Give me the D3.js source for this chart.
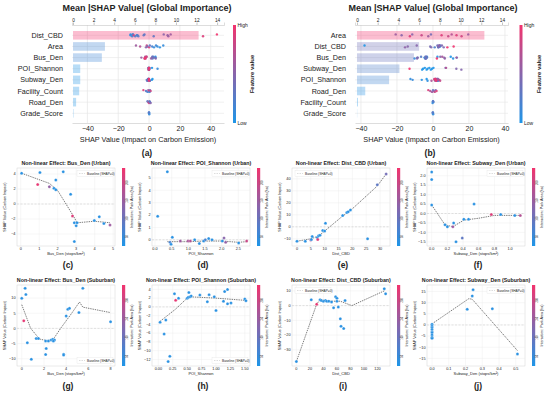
<!DOCTYPE html>
<html lang="en">
<head>
<meta charset="UTF-8">
<title>SHAP panels</title>
<script src="https://d3js.org/d3.v7.min.js"></script>
<style>
  body { margin: 0; background: #fff; }
  svg { display: block; }
  text { font-family: "Liberation Sans", Arial, sans-serif; fill: #222; }
</style>
</head>
<body>
<svg id="chart" width="550" height="393"></svg>
<script>
// ---- summary panels (a) / (b)
var featA = ["Dist_CBD", "Area", "Bus_Den", "POI_Shannon", "Subway_Den", "Facility_Count", "Road_Den", "Grade_Score"];
var impA = [12.2, 3.1, 2.8, 0.7, 0.7, 0.6, 0.3, 0.05];
var featB = ["Area", "Dist_CBD", "Bus_Den", "Subway_Den", "POI_Shannon", "Road_Den", "Facility_Count", "Grade_Score"];
var impB = [12.3, 6.0, 5.5, 4.1, 3.1, 0.8, 0.1, 0.02];
var impTicks = [0, 2, 4, 6, 8, 10, 12, 14];
var shapTicks = [-40, -20, 0, 20, 40];

// extra swarm values (shap, feature value 0..1) for features without a dependence panel
var areaShapA = [-8.5, -5.8, -2, -1.5, -1, 0, 0.5, 2, 3.2, 4.5, 5.4, 7, 9.2];
var areaValA = [0.6, 0.7, 0.5, 0.8, 0.4, 0.9, 0.3, 0.2, 0.1, 0.15, 0.1, 0.05, 0.1];
var facShapA = [-3.7, -2, -1, -0.5, 0, 0.3, 0.6, 1];
var facValA = [0.9, 0.3, 0.2, 0.6, 0.9, 0.1, 0.4, 0.8];
var roadShapA = [-1, -0.5, 0, 0.3, 0.6, 1];
var roadValA = [0.3, 0.6, 0.9, 0.4, 0.2, 0.5];
var gradeShap = [0, 0, 0.1, -0.1];
var gradeVal = [0.1, 0.2, 0.1, 0.3];
var areaShapB = [-20.7, -17.4, -12.8, -11.5, -6.3, -2.6, -1.1, 4.8, 8.5, 10.4, 13.1, 15.9, 19.6];
var areaValB = [0.6, 0.5, 0.9, 0.5, 0.8, 0.6, 0.4, 0.9, 0.8, 0.7, 0.9, 0.85, 0.6];
var roadShapB = [-2.6, -1.5, -0.5, 0, 0.5, 1, 1.5, 2];
var roadValB = [0.9, 0.7, 0.6, 0.3, 0.5, 0.8, 0.4, 0.9];
var facShapB = [0, 0.2, -0.2, 0.1];
var facValB = [0.1, 0.2, 0.1, 0.3];

// ---- dependence panels
var cX = [0.05, 1.04, 2.3, 0.92, 1.9, 1.55, 1.8, 1.9, 2.7, 2.8, 2.9, 3.0, 3.05, 2.9, 3.98, 4.25, 4.5, 4.83];
var cY = [4.1, 4.2, 4.3, 2.6, 3.2, 2.3, 2.1, 1.9, 1.3, -1.6, -2.5, -2.9, -2.5, -5.0, -2.2, -1.7, -2.6, -2.8];
var cC = [0.05, 0.05, 0.05, 0.95, 0.05, 0.55, 0.05, 0.05, 0.05, 0.9, 0.05, 0.05, 0.05, 0.05, 0.05, 0.05, 0.05, 0.6];
var cTx = [0.05, 1.55, 2.0, 2.85, 3.05, 3.98, 4.83];
var cTy = [4.1, 2.75, 1.8, -1.6, -2.5, -2.3, -2.5];

var dX = [0.08, 0.37, 0.45, 0.48, 0.52, 0.76, 0.99, 1.06, 1.19, 1.33, 1.46, 1.51, 1.61, 1.71, 2.02, 2.07, 2.12, 2.51, 2.75];
var dY = [1.9, 5.5, -0.2, -0.35, 0.2, -0.1, -0.1, -0.1, 0.0, -0.3, -0.1, 0.0, 0.1, 0.0, -0.1, 0.15, -0.2, -0.25, -0.1];
var dC = [0.05, 0.05, 0.2, 0.05, 0.05, 0.6, 0.65, 0.7, 0.05, 0.05, 0.05, 0.2, 0.05, 0.05, 0.05, 0.5, 0.55, 0.05, 0.8];
var dTx = [0.37, 1.0, 1.5, 2.0, 2.5, 2.75];
var dTy = [-0.15, -0.15, -0.1, -0.1, -0.2, -0.15];

var eX = [0, 3, 5, 5.2, 5.5, 7.3, 7.5, 7.8, 8.3, 9.3, 10.0, 10.3, 16.5, 18, 18.5, 19.3, 25.5, 29, 32.2];
var eY = [-12, -12, -11, -10.5, -8, -9, -10.5, -7.5, -7, -3, -3.5, 3, 9.5, 12, 12.5, 14, -10, 35, 44];
var eC = [0.05, 0.05, 0.6, 0.05, 0.05, 0.05, 0.9, 0.05, 0.05, 0.05, 0.05, 0.05, 0.05, 0.05, 0.05, 0.05, 0.05, 0.3, 0.4];
var eTx = [0, 5, 8, 10, 16, 20, 29, 32.2];
var eTy = [-12, -10, -7.5, -3.5, 8, 15, 34, 44];

var fX = [0, 0, 0, 0.17, 0.2, 0.27, 0.28, 0.31, 0.39, 0.41, 0.47, 0.54, 0.76, 0.88, 1.06, 1.13];
var fY = [2.2, 1.8, 0.45, -0.6, -0.7, -0.7, -0.5, -1.5, -1.3, -0.3, -0.3, 0.5, -0.05, -0.05, -0.1, -0.1];
var fC = [0.05, 0.05, 0.05, 0.05, 0.05, 0.6, 0.05, 0.05, 0.3, 0.05, 0.05, 0.05, 0.9, 0.05, 0.05, 0.7];
var fTx = [0, 0.17, 0.27, 0.41, 0.6, 0.8, 1.13];
var fTy = [0.45, -0.6, -0.7, -0.35, -0.25, -0.1, -0.1];

var gX = [0, 0.3, 0.37, 0.18, 0.5, 0.86, 1.3, 1.5, 2.15, 2.2, 2.15, 2.4, 2.65, 2.8, 2.95, 2.85, 3.77, 3.77, 4.0, 4.15, 4.3, 5.15, 5.5, 8.0];
var gY = [9.9, 13.2, 11.2, 2.5, -4.7, -10.2, -3.3, -3.3, -4.2, -6.6, -8.6, -4.2, -3.8, -3.6, -3.8, -4.2, -8.5, -8.8, 4.1, 6.3, 6.6, 5.2, 13.2, 2.2];
var gC = [0.05, 0.05, 0.05, 0.95, 0.05, 0.05, 0.05, 0.05, 0.05, 0.05, 0.05, 0.05, 0.05, 0.05, 0.05, 0.05, 0.05, 0.05, 0.05, 0.05, 0.05, 0.05, 0.05, 0.05];
var gTx = [0, 0.8, 1.6, 2.2, 2.8, 3.5, 4.5, 5.2, 5.5, 8.0];
var gTy = [7.8, 0, -3.5, -4.0, -3.8, 0, 5, 8.7, 7.0, 5.2];

var hX = [0.03, 0.1, 0.13, 0.17, 0.2, 0.28, 0.3, 0.35, 0.5, 0.52, 0.53, 0.55, 0.57, 0.72, 0.85, 0.88, 0.97, 1.0, 1.13, 1.15, 1.2, 1.2, 1.26, 1.5, 1.52];
var hY = [-3.5, -6.2, -3.0, -12.5, -11.3, 3.0, 1.5, 2.0, 2.0, 2.2, 3.3, 2.3, 2.5, 2.7, 1.2, 2.8, 2.3, -0.8, 1.3, 3.5, 4.0, 0.7, 0.9, 1.8, 1.4];
var hC = [0.05, 0.05, 0.05, 0.05, 0.05, 0.05, 0.95, 0.05, 0.05, 0.05, 0.05, 0.05, 0.05, 0.05, 0.05, 0.05, 0.05, 0.05, 0.05, 0.05, 0.05, 0.05, 0.05, 0.05, 0.05];
var hTx = [0.03, 0.3, 0.5, 0.55, 1.0, 1.5];
var hTy = [-3.3, -0.5, 2.0, 2.3, 2.0, 1.5];

var iX = [0, 22, 30, 35, 37, 40, 43, 45, 48, 52, 55, 58, 60, 60, 62, 65, 66, 70, 72, 130, 132];
var iY = [-38, 4, 1, 4, 3.5, 3, 3.5, 3, 3, 2.5, -1.5, 6, 5, 3, -1, -9, -14, -15.5, 3.5, 11.5, 8];
var iC = [0.05, 0.05, 0.95, 0.05, 0.05, 0.05, 0.05, 0.05, 0.05, 0.05, 0.05, 0.05, 0.05, 0.05, 0.05, 0.05, 0.05, 0.05, 0.05, 0.05, 0.05];
var iTx = [0, 20, 30, 35, 50, 65, 82, 130];
var iTy = [-38, -12, 1, 4, 3, 3, 0, 10];

var jX = [0, 0, 0, 0, 0, 0, 0, 0, 0, 0.21, 0.24, 0.245, 0.36, 0.51];
var jY = [0.3, -0.5, -1.2, -2, -3, -3.5, -4.5, -5.5, -6, 7, 13, 15.8, 7.3, -13];
var jC = [0.05, 0.05, 0.05, 0.05, 0.05, 0.05, 0.05, 0.05, 0.05, 0.05, 0.05, 0.05, 0.05, 0.05];
var jTx = [0, 0.22, 0.24, 0.51];
var jTy = [0.5, 11.8, 11.5, -11.5];

var svg = d3.select("#chart");
var cmap = d3.interpolateRgb("#1e96e8", "#f2336e");

// gradient for colorbars
var defs = svg.append("defs");
var grad = defs.append("linearGradient").attr("id", "cbar").attr("x1", 0).attr("x2", 0).attr("y1", 1).attr("y2", 0);
d3.range(0, 1.01, 0.1).forEach(function(t) {
  grad.append("stop").attr("offset", t).attr("stop-color", cmap(t));
});

function norm(arr) {
  var ext = d3.extent(arr);
  return arr.map(function(v) { return (v - ext[0]) / (ext[1] - ext[0] || 1); });
}

function drawSummary(o) {
  var g = svg.append("g");
  var xs = d3.scaleLinear().domain(o.shapDom).range([o.x0, o.x1]);
  var xi = d3.scaleLinear().domain(o.impDom).range([o.x0, o.x1]);
  var y = d3.scalePoint().domain(o.feat).range([35.3, 113.3]);
  var top = 25, bot = 123;

  // grid
  g.selectAll(".vg").data(shapTicks).enter().append("line")
    .attr("x1", function(d) { return xs(d); }).attr("x2", function(d) { return xs(d); })
    .attr("y1", top).attr("y2", bot).attr("stroke", "#e3e3e3").attr("stroke-width", 0.6);
  g.selectAll(".hg").data(o.feat).enter().append("line")
    .attr("x1", o.x0).attr("x2", o.x1)
    .attr("y1", function(d) { return y(d); }).attr("y2", function(d) { return y(d); })
    .attr("stroke", "#e6e6e6").attr("stroke-width", 0.6);

  // bars
  var maxImp = d3.max(o.imp);
  g.selectAll(".bar").data(o.imp).enter().append("rect")
    .attr("x", xi(0)).attr("y", function(d, i) { return y(o.feat[i]) - 4.3; })
    .attr("width", function(d) { return xi(d) - xi(0); }).attr("height", 8.6)
    .attr("fill", function(d) { return cmap(Math.pow(d / maxImp, 1.3)); }).attr("opacity", 0.32);

  // swarm dots
  o.swarm.forEach(function(s, r) {
    var yc = y(o.feat[r]);
    s.shap.forEach(function(v, k) {
      g.append("circle").attr("cx", xs(v)).attr("cy", yc + ((k % 3) - 1) * 0.9)
        .attr("r", 1.2).attr("fill", cmap(s.val[k])).attr("opacity", 0.9);
    });
  });

  // top axis
  var ta = g.append("g").attr("transform", "translate(0," + top + ")")
    .call(d3.axisTop(xi).tickValues(impTicks).tickSize(2.5).tickPadding(1));
  ta.select(".domain").attr("stroke", "#bbb").attr("stroke-width", 0.5);
  ta.selectAll(".tick line").attr("stroke", "#888").attr("stroke-width", 0.5);
  ta.selectAll("text").attr("font-size", 4.8).attr("fill", "#444");

  // bottom axis
  var ba = g.append("g").attr("transform", "translate(0," + bot + ")")
    .call(d3.axisBottom(xs).tickValues(shapTicks).tickSize(0).tickPadding(3).tickFormat(function(d) { return d < 0 ? "\u2212" + (-d) : d; }));
  ba.select(".domain").attr("stroke", "#bbb").attr("stroke-width", 0.5);
  ba.selectAll("text").attr("font-size", 7).attr("fill", "#333");

  // labels
  g.selectAll(".fl").data(o.feat).enter().append("text")
    .attr("x", o.x0 - 9).attr("y", function(d) { return y(d) + 2.6; })
    .attr("text-anchor", "end").attr("font-size", 7.2).attr("fill", "#333").text(function(d) { return d; });
  g.append("text").attr("x", o.titleX).attr("y", 10.5).attr("text-anchor", "middle")
    .attr("font-size", 9).attr("font-weight", "bold").text("Mean |SHAP Value| (Global Importance)");
  g.append("text").attr("x", (o.x0 + o.x1) / 2).attr("y", 142).attr("text-anchor", "middle")
    .attr("font-size", 7.3).attr("fill", "#333").text("SHAP Value (Impact on Carbon Emission)");

  // colorbar
  g.append("rect").attr("x", o.cbX).attr("y", top).attr("width", 3).attr("height", bot - top).attr("fill", "url(#cbar)");
  g.append("text").attr("x", o.cbX + 4.5).attr("y", top + 2).attr("font-size", 5).attr("fill", "#444").text("High");
  g.append("text").attr("x", o.cbX + 4.5).attr("y", bot + 1.5).attr("font-size", 5).attr("fill", "#444").text("Low");
  g.append("text").attr("transform", "translate(" + (o.cbX + 21) + "," + ((top + bot) / 2) + ") rotate(-90)")
    .attr("text-anchor", "middle").attr("font-size", 6).attr("font-weight", "bold").attr("fill", "#333").text("Feature value");

  g.append("text").attr("x", o.labX).attr("y", 155.5).attr("text-anchor", "middle")
    .attr("font-family", "Liberation Serif, serif").attr("font-size", 8.5).attr("font-weight", "bold").text(o.label);
}

function drawDep(o) {
  var g = svg.append("g");
  var L = o.ox + 17, R = o.ox + 115, T = o.top, B = o.bot;
  var x = d3.scaleLinear().domain(o.xdom).range([L, R]);
  var y = d3.scaleLinear().domain(o.ydom).range([B, T]);

  g.append("rect").attr("x", L).attr("y", T).attr("width", R - L).attr("height", B - T)
    .attr("fill", "#fff").attr("stroke", "#d4d4d4").attr("stroke-width", 0.5);
  g.selectAll(".gx").data(o.xticks).enter().append("line")
    .attr("x1", function(d) { return x(d); }).attr("x2", function(d) { return x(d); })
    .attr("y1", T).attr("y2", B).attr("stroke", "#ececec").attr("stroke-width", 0.4);
  g.selectAll(".gy").data(o.yticks).enter().append("line")
    .attr("y1", function(d) { return y(d); }).attr("y2", function(d) { return y(d); })
    .attr("x1", L).attr("x2", R).attr("stroke", "#ececec").attr("stroke-width", 0.4);

  // baseline at shap = 0
  g.append("line").attr("x1", L).attr("x2", R).attr("y1", y(0)).attr("y2", y(0))
    .attr("stroke", "#bbb").attr("stroke-width", 0.4).attr("stroke-dasharray", "2,1.5");

  // trend
  var line = d3.line().x(function(d) { return x(d[0]); }).y(function(d) { return y(d[1]); });
  g.append("path").datum(d3.zip(o.tx, o.ty)).attr("d", line)
    .attr("fill", "none").attr("stroke", "#444").attr("stroke-width", 0.7).attr("stroke-dasharray", "1.4,0.9");

  // points
  g.selectAll(".pt").data(d3.range(o.xs.length)).enter().append("circle")
    .attr("cx", function(i) { return x(o.xs[i]); }).attr("cy", function(i) { return y(o.ys[i]); })
    .attr("r", 1.5).attr("fill", function(i) { return cmap(o.cs[i]); })
    .attr("stroke", "#fff").attr("stroke-width", 0.25);

  // tick labels
  g.selectAll(".xl").data(o.xticks).enter().append("text")
    .attr("x", function(d) { return x(d); }).attr("y", B + 4.3).attr("text-anchor", "middle")
    .attr("font-size", 3.8).attr("fill", "#444").text(function(d) { return d3.format(o.xfmt)(d); });
  g.selectAll(".yl").data(o.yticks).enter().append("text")
    .attr("x", L - 1.5).attr("y", function(d) { return y(d) + 1.3; }).attr("text-anchor", "end")
    .attr("font-size", 3.8).attr("fill", "#444").text(function(d) { return d3.format(o.yfmt)(d); });

  g.append("text").attr("x", (L + R) / 2).attr("y", B + 9).attr("text-anchor", "middle")
    .attr("font-size", 4).attr("fill", "#333").text(o.xlab);
  g.append("text").attr("transform", "translate(" + (o.ox + 6) + "," + ((T + B) / 2) + ") rotate(-90)")
    .attr("text-anchor", "middle").attr("font-size", 3.8).attr("fill", "#333").text("SHAP Value (Carbon Impact)");
  g.append("text").attr("x", (L + R) / 2).attr("y", T - 3).attr("text-anchor", "middle")
    .attr("font-size", 5.3).attr("font-weight", "bold").attr("fill", "#222").text(o.title);

  // legend
  var lw = 36, lh = 6;
  var lx = o.leg[0] === "l" ? L + 3 : R - lw - 2;
  var ly = o.leg[1] === "t" ? T + 2.5 : B - lh - 2.5;
  g.append("rect").attr("x", lx).attr("y", ly).attr("width", lw).attr("height", lh)
    .attr("fill", "#fff").attr("stroke", "#ddd").attr("stroke-width", 0.3);
  g.append("line").attr("x1", lx + 2).attr("x2", lx + 8).attr("y1", ly + lh / 2).attr("y2", ly + lh / 2)
    .attr("stroke", "#aaa").attr("stroke-width", 0.4).attr("stroke-dasharray", "1.5,1");
  g.append("text").attr("x", lx + 10).attr("y", ly + lh / 2 + 1.1).attr("font-size", 3.2).attr("fill", "#444").text("Baseline (SHAP=0)");

  // colorbar
  var cx = o.ox + 122;
  g.append("rect").attr("x", cx).attr("y", T).attr("width", 3.2).attr("height", B - T).attr("fill", "url(#cbar)");
  var cs = d3.scaleLinear().domain([0, 1]).range([B, T]);
  g.selectAll(".cl").data([0.12, 0.35, 0.58, 0.81]).enter().append("text")
    .attr("transform", function(d) { return "translate(" + (cx + 6) + "," + cs(d) + ") rotate(-90)"; })
    .attr("text-anchor", "middle").attr("font-size", 2.6).attr("fill", "#555")
    .text(function(d, i) { return ["50", "100", "150", "200"][i]; });
  g.append("text").attr("transform", "translate(" + (cx + 11) + "," + ((T + B) / 2) + ") rotate(-90)")
    .attr("text-anchor", "middle").attr("font-size", 3.6).attr("fill", "#333").text("Interaction: Park Area (ha)");

  g.append("text").attr("x", o.ox + 68).attr("y", o.labY).attr("text-anchor", "middle")
    .attr("font-family", "Liberation Serif, serif").attr("font-size", 8.5).attr("font-weight", "bold").text(o.label);
}

drawSummary({
  x0: 72, x1: 224, shapDom: [-50, 48.6], impDom: [-0.1, 14.67], feat: featA, imp: impA,
  titleX: 147, cbX: 233, labX: 147, label: "(a)",
  swarm: [
    { shap: eY, val: norm(eX) }, { shap: areaShapA, val: areaValA }, { shap: cY, val: norm(cX) },
    { shap: dY, val: norm(dX) }, { shap: fY, val: norm(fX) }, { shap: facShapA, val: facValA },
    { shap: roadShapA, val: roadValA }, { shap: gradeShap, val: gradeVal }
  ]
});
drawSummary({
  x0: 355, x1: 508, shapDom: [-43.3, 41.7], impDom: [-0.19, 14.58], feat: featB, imp: impB,
  titleX: 433, cbX: 519.5, labX: 430, label: "(b)",
  swarm: [
    { shap: areaShapB, val: areaValB }, { shap: iY, val: norm(iX) }, { shap: gY, val: norm(gX) },
    { shap: jY, val: norm(jX) }, { shap: hY, val: norm(hX) }, { shap: roadShapB, val: roadValB },
    { shap: facShapB, val: facValB }, { shap: gradeShap, val: gradeVal }
  ]
});

var r1 = { top: 168, bot: 246, labY: 268 };
var r2 = { top: 285, bot: 366, labY: 389 };

drawDep({ ox: 0, top: r1.top, bot: r1.bot, labY: r1.labY, label: "(c)", title: "Non-linear Effect: Bus_Den (Urban)",
  xlab: "Bus_Den (stops/km\u00b2)", xs: cX, ys: cY, cs: cC, tx: cTx, ty: cTy,
  xdom: [-0.2, 5.1], ydom: [-5.6, 4.8], xticks: [0, 1, 2, 3, 4, 5], yticks: [-4, -2, 0, 2, 4], xfmt: "d", yfmt: "d", leg: "rt" });
drawDep({ ox: 135, top: r1.top, bot: r1.bot, labY: r1.labY, label: "(d)", title: "Non-linear Effect: POI_Shannon (Urban)",
  xlab: "POI_Shannon", xs: dX, ys: dY, cs: dC, tx: dTx, ty: dTy,
  xdom: [-0.09, 2.85], ydom: [-0.5, 5.8], xticks: [0, 0.5, 1, 1.5, 2, 2.5], yticks: [0, 1, 2, 3, 4, 5], xfmt: ".1f", yfmt: "d", leg: "rt" });
drawDep({ ox: 275, top: r1.top, bot: r1.bot, labY: r1.labY, label: "(e)", title: "Non-linear Effect: Dist_CBD (Urban)",
  xlab: "Dist_CBD", xs: eX, ys: eY, cs: eC, tx: eTx, ty: eTy,
  xdom: [-1.8, 33.6], ydom: [-16, 49], xticks: [0, 5, 10, 15, 20, 25, 30], yticks: [-10, 0, 10, 20, 30, 40], xfmt: "d", yfmt: "d", leg: "lt" });
drawDep({ ox: 410, top: r1.top, bot: r1.bot, labY: r1.labY, label: "(f)", title: "Non-linear Effect: Subway_Den (Urban)",
  xlab: "Subway_Den (stops/km\u00b2)", xs: fX, ys: fY, cs: fC, tx: fTx, ty: fTy,
  xdom: [-0.06, 1.19], ydom: [-1.72, 2.41], xticks: [0, 0.2, 0.4, 0.6, 0.8, 1.0], yticks: [-1.5, -1, -0.5, 0, 0.5, 1, 1.5, 2], xfmt: ".1f", yfmt: ".1f", leg: "rt" });

drawDep({ ox: 0, top: r2.top, bot: r2.bot, labY: r2.labY, label: "(g)", title: "Non-linear Effect: Bus_Den (Suburban)",
  xlab: "Bus_Den (stops/km\u00b2)", xs: gX, ys: gY, cs: gC, tx: gTx, ty: gTy,
  xdom: [-0.43, 8.4], ydom: [-12.4, 14.3], xticks: [0, 2, 4, 6, 8], yticks: [-10, -5, 0, 5, 10], xfmt: "d", yfmt: "d", leg: "rb" });
drawDep({ ox: 135, top: r2.top, bot: r2.bot, labY: r2.labY, label: "(h)", title: "Non-linear Effect: POI_Shannon (Suburban)",
  xlab: "POI_Shannon", xs: hX, ys: hY, cs: hC, tx: hTx, ty: hTy,
  xdom: [-0.11, 1.59], ydom: [-13.5, 5], xticks: [0, 0.25, 0.5, 0.75, 1, 1.25, 1.5], yticks: [-12, -10, -8, -6, -4, -2, 0, 2, 4], xfmt: ".2f", yfmt: "d", leg: "rb" });
drawDep({ ox: 275, top: r2.top, bot: r2.bot, labY: r2.labY, label: "(i)", title: "Non-linear Effect: Dist_CBD (Suburban)",
  xlab: "Dist_CBD", xs: iX, ys: iY, cs: iC, tx: iTx, ty: iTy,
  xdom: [-6.5, 138.5], ydom: [-41, 14], xticks: [0, 20, 40, 60, 80, 100, 120], yticks: [-30, -20, -10, 0, 10], xfmt: "d", yfmt: "d", leg: "lt" });
drawDep({ ox: 410, top: r2.top, bot: r2.bot, labY: r2.labY, label: "(j)", title: "Non-linear Effect: Subway_Den (Suburban)",
  xlab: "Subway_Den (stops/km\u00b2)", xs: jX, ys: jY, cs: jC, tx: jTx, ty: jTy,
  xdom: [-0.03, 0.555], ydom: [-18.4, 17.9], xticks: [0, 0.1, 0.2, 0.3, 0.4, 0.5], yticks: [-15, -10, -5, 0, 5, 10, 15], xfmt: ".1f", yfmt: "d", leg: "rt" });
</script>
</body>
</html>
